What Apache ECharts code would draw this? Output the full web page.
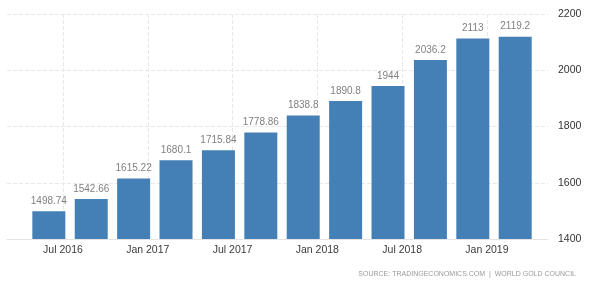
<!DOCTYPE html>
<html>
<head>
<meta charset="utf-8">
<script src="https://cdn.jsdelivr.net/npm/echarts@6/dist/echarts.min.js"></script>
<style>html,body{margin:0;padding:0;background:#fff}#c{width:600px;height:283px}</style>
</head>
<body>
<div id="c"></div>
<script>
// Quarterly periods (year-month of each bar)
const periods = ['2016-06','2016-09','2016-12','2017-03','2017-06','2017-09','2017-12','2018-03','2018-06','2018-09','2018-12','2019-03'];
const values = [1498.74, 1542.66, 1615.22, 1680.1, 1715.84, 1778.86, 1838.8, 1890.8, 1944, 2036.2, 2113, 2119.2];
const xTickLabels = ['2016-07','2017-01','2017-07','2018-01','2018-07','2019-01'];
const yTicks = [1400, 1600, 1800, 2000, 2200];
const sourceText = 'SOURCE: TRADINGECONOMICS.COM  |  WORLD GOLD COUNCIL';

const MONTHS = ['Jan','Feb','Mar','Apr','May','Jun','Jul','Aug','Sep','Oct','Nov','Dec'];
function toIdx(s){ const p = s.split('-'); return (parseInt(p[0]) - 2016) * 12 + parseInt(p[1]) - 1; }
function fmt(v){ const m = ((Math.round(v) % 12) + 12) % 12; const y = 2016 + Math.floor(Math.round(v) / 12); return MONTHS[m] + ' ' + y; }

const barData = periods.map((p, i) => [toIdx(p), values[i]]);
const tickVals = xTickLabels.map(toIdx);

const chart = echarts.init(document.getElementById('c'), null, {renderer: 'canvas'});
chart.setOption({
  animation: false,
  grid: {left: 7, right: 52, top: 14, bottom: 44},
  xAxis: {
    type: 'value',
    min: 2.04,
    max: 40.32,
    axisLine: {show: true, lineStyle: {color: '#e4e4e4'}},
    axisTick: {show: false, customValues: tickVals},
    axisLabel: {customValues: tickVals, formatter: fmt, color: '#3a3a3a', fontSize: 10.5, fontFamily: 'Liberation Sans, Arial', margin: 6},
    splitLine: {show: true, lineStyle: {color: '#e8e8e8', type: 'dashed', width: 1}}
  },
  yAxis: {
    type: 'value',
    position: 'right',
    min: yTicks[0],
    max: yTicks[yTicks.length - 1],
    interval: 200,
    axisLine: {show: false},
    axisTick: {show: false},
    axisLabel: {color: '#333', fontSize: 10.5, fontFamily: 'Liberation Sans, Arial', margin: 10, formatter: v => String(v)},
    splitLine: {lineStyle: {color: '#e8e8e8', type: 'dashed'}}
  },
  series: [{
    type: 'bar',
    data: barData,
    barWidth: 33,
    itemStyle: {color: '#4480b6'},
    label: {show: true, position: 'top', distance: 5, color: '#808080', fontSize: 10, fontFamily: 'Liberation Sans, Arial',
      formatter: p => String(p.value[1])}
  }],
  graphic: [{
    type: 'text', right: 24, top: 271,
    style: {text: sourceText, fill: '#9a9a9a', fontSize: 7, fontFamily: 'Liberation Sans, Arial'}
  }]
});
</script>
</body>
</html>
